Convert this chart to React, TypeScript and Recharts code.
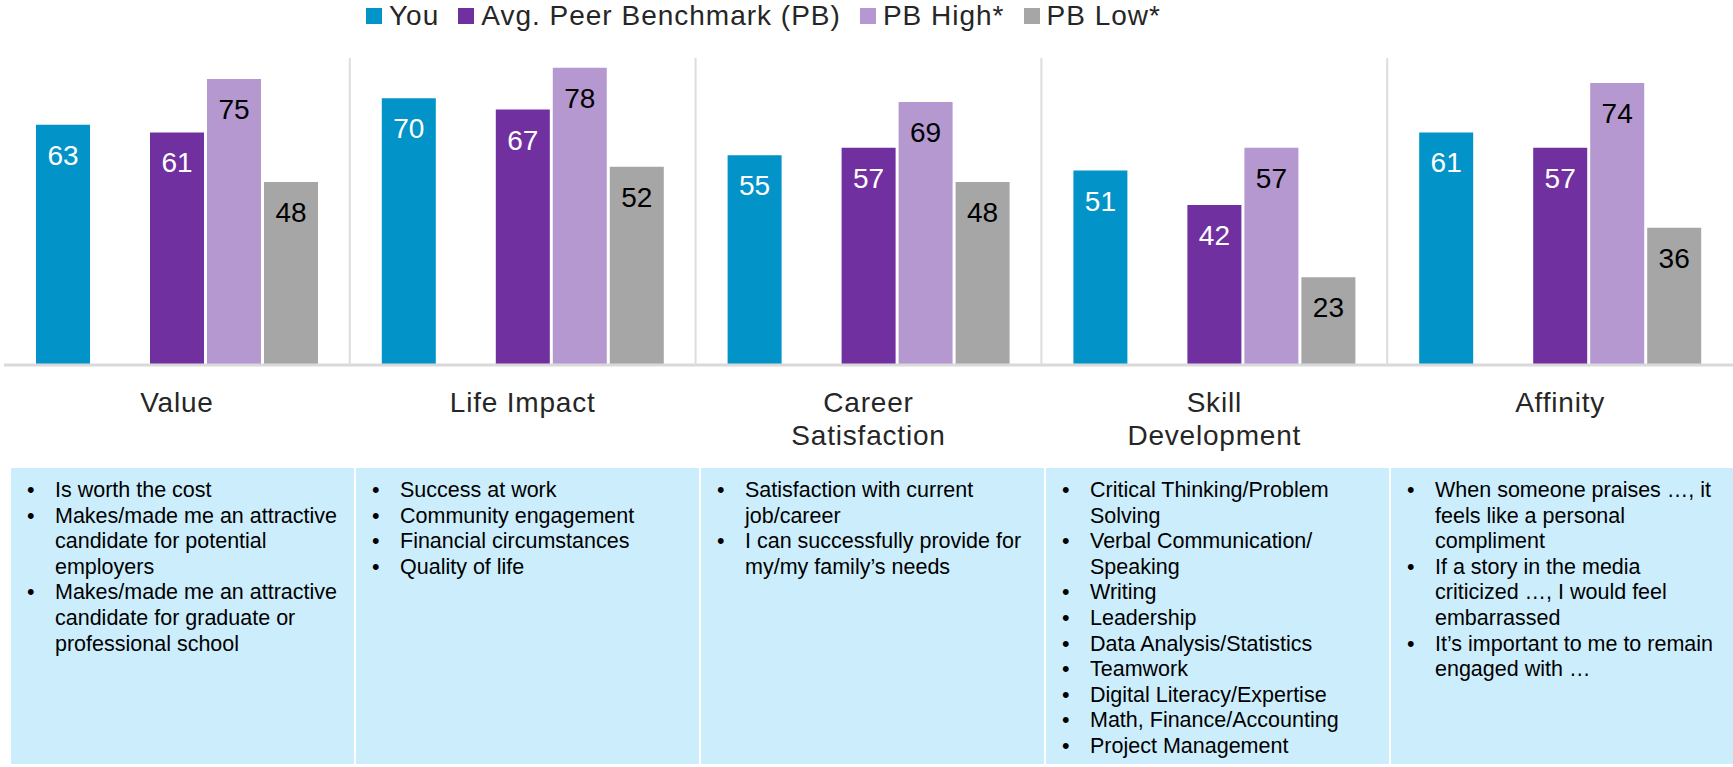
import { BarChart, Bar, XAxis, YAxis, LabelList } from 'recharts';

const categories = ['Value', 'Life Impact', 'Career Satisfaction', 'Skill Development', 'Affinity'];
const categoryLines = [['Value'], ['Life Impact'], ['Career', 'Satisfaction'], ['Skill', 'Development'], ['Affinity']];

const youScores = [63, 70, 55, 51, 61];
const peerAvgScores = [61, 67, 57, 42, 57];
const peerHighScores = [75, 78, 69, 57, 74];
const peerLowScores = [48, 52, 48, 23, 36];

const legendItems = [
  { label: 'You', color: '#0293C8' },
  { label: 'Avg. Peer Benchmark (PB)', color: '#7030A0' },
  { label: 'PB High*', color: '#B598D0' },
  { label: 'PB Low*', color: '#A6A6A6' },
];

const bulletLists = [
  [
    'Is worth the cost',
    'Makes/made me an attractive\ncandidate for potential\nemployers',
    'Makes/made me an attractive\ncandidate for graduate or\nprofessional school',
  ],
  ['Success at work', 'Community engagement', 'Financial circumstances', 'Quality of life'],
  ['Satisfaction with current\njob/career', 'I can successfully provide for\nmy/my family\u2019s needs'],
  [
    'Critical Thinking/Problem\nSolving',
    'Verbal Communication/\nSpeaking',
    'Writing',
    'Leadership',
    'Data Analysis/Statistics',
    'Teamwork',
    'Digital Literacy/Expertise',
    'Math, Finance/Accounting',
    'Project Management',
  ],
  [
    'When someone praises \u2026, it\nfeels like a personal\ncompliment',
    'If a story in the media\ncriticized \u2026, I would feel\nembarrassed',
    'It\u2019s important to me to remain\nengaged with \u2026',
  ],
];

const FONT = '"Liberation Sans", Arial, sans-serif';
const W = 1733;
const PLOT_LEFT = 4;
const HALF_BAND = (W - PLOT_LEFT) / categories.length / 2;

const rows = categories.map((name, i) => ({
  name,
  you: youScores[i],
  spacer: null,
  avg: peerAvgScores[i],
  high: peerHighScores[i],
  low: peerLowScores[i],
}));

const valueLabel = (color: string) => (props: any) => {
  const { x, y, width, value } = props;
  if (value == null) return null;
  return (
    <text x={x + width / 2} y={y + 40} textAnchor="middle" fill={color} fontSize={28} fontFamily={FONT}>
      {value}
    </text>
  );
};

const CategoryTick = (props: any) => {
  const { x, y, payload } = props;
  const i = categories.indexOf(payload.value);
  const lines = categoryLines[i] || [payload.value];
  return (
    <g>
      {i < categories.length - 1 && (
        <line x1={x + HALF_BAND} x2={x + HALF_BAND} y1={y - 307} y2={y} stroke="#DDDDDD" strokeWidth={2} />
      )}
      {lines.map((t, k) => (
        <text
          key={t}
          x={x}
          y={y + 47 + k * 33}
          textAnchor="middle"
          fill="#262626"
          fontSize={28}
          letterSpacing={0.8}
          fontFamily={FONT}
        >
          {t}
        </text>
      ))}
    </g>
  );
};

export default function App() {
  return (
    <div style={{ position: 'absolute', left: 0, top: 0, width: W, height: 767, background: '#fff', fontFamily: FONT }}>
      {/* Leyenda */}
      <div
        style={{
          position: 'absolute',
          left: 366,
          top: 0,
          height: 32,
          display: 'flex',
          alignItems: 'center',
          fontSize: 28,
          lineHeight: '32px',
          letterSpacing: 1,
          color: '#262626',
          whiteSpace: 'nowrap',
        }}
      >
        {legendItems.map(item => (
          <div key={item.label} style={{ display: 'flex', alignItems: 'center', marginRight: 19 }}>
            <span style={{ width: 16, height: 16, background: item.color, marginRight: 7, display: 'inline-block' }} />
            <span>{item.label}</span>
          </div>
        ))}
      </div>

      <div style={{ position: 'absolute', left: 0, top: 0 }}>
        <BarChart
          width={W}
          height={460}
          data={rows}
          margin={{ top: 60, right: 0, bottom: 0, left: PLOT_LEFT }}
          barCategoryGap={32}
          barGap={3}
        >
          <YAxis hide domain={[0, 80]} />
          <XAxis
            dataKey="name"
            height={95}
            interval={0}
            tickLine={false}
            tickSize={0}
            tickMargin={0}
            axisLine={{ stroke: '#D9D9D9', strokeWidth: 3 }}
            tick={(p: any) => <CategoryTick {...p} />}
          />
          <Bar dataKey="you" fill="#0293C8" isAnimationActive={false}>
            <LabelList dataKey="you" content={valueLabel('#FFFFFF')} />
          </Bar>
          <Bar dataKey="spacer" fill="none" isAnimationActive={false} />
          <Bar dataKey="avg" fill="#7030A0" isAnimationActive={false}>
            <LabelList dataKey="avg" content={valueLabel('#FFFFFF')} />
          </Bar>
          <Bar dataKey="high" fill="#B598D0" isAnimationActive={false}>
            <LabelList dataKey="high" content={valueLabel('#000000')} />
          </Bar>
          <Bar dataKey="low" fill="#A6A6A6" isAnimationActive={false}>
            <LabelList dataKey="low" content={valueLabel('#000000')} />
          </Bar>
        </BarChart>
      </div>

      {/* Cajas de descripción */}
      {bulletLists.map((items, i) => (
        <div
          key={i}
          style={{
            position: 'absolute',
            left: 11 + i * 345,
            top: 468,
            width: i === bulletLists.length - 1 ? W - (11 + i * 345) : 343,
            height: 296,
            background: '#CCEEFC',
            boxSizing: 'border-box',
            padding: '10px 0 0 16px',
            fontSize: 21.5,
            lineHeight: '25.6px',
            color: '#000',
          }}
        >
          {items.map(text => (
            <div key={text} style={{ display: 'flex' }}>
              <span style={{ width: 28, flexShrink: 0 }}>{'\u2022'}</span>
              <span style={{ whiteSpace: 'pre-line' }}>{text}</span>
            </div>
          ))}
        </div>
      ))}
    </div>
  );
}
